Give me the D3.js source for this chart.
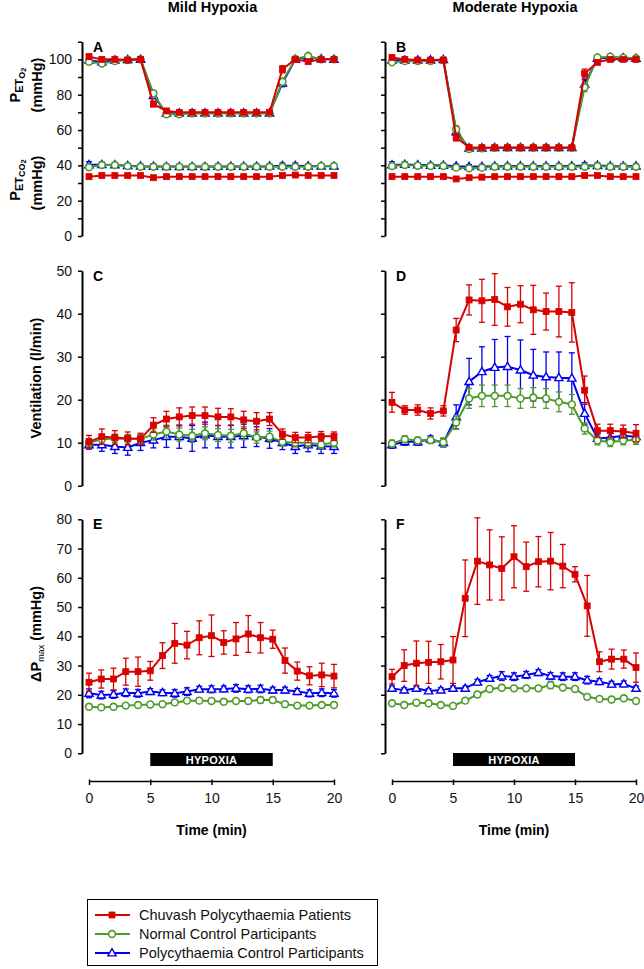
<!DOCTYPE html>
<html><head><meta charset="utf-8">
<script src="https://cdn.jsdelivr.net/npm/d3@7"></script>
<style>body{margin:0;background:#fff} svg{display:block} text{font-family:"Liberation Sans",Arial,sans-serif}</style>
</head><body><svg id="c" width="644" height="969"></svg>
<script>
// ---------- DATA ----------
const timeABCD = [0, 1.05, 2.11, 3.16, 4.21, 5.26, 6.32, 7.37, 8.42, 9.47, 10.53, 11.58, 12.63, 13.68, 14.74, 15.79, 16.84, 17.89, 18.95, 20];
const timeEF = [0,1,2,3,4,5,6,7,8,9,10,11,12,13,14,15,16,17,18,19,20];
const hypoxiaPeriod = [5, 15];
const seriesNames = ["Chuvash Polycythaemia Patients", "Normal Control Participants", "Polycythaemia Control Participants"];
const columnTitles = ["Mild Hypoxia", "Moderate Hypoxia"];
const panelLetters = ["A","B","C","D","E","F"];
const timeTicks = [0,5,10,15,20];
const gasTicks = [0,10,20,30,40,50,60,70,80,90,100,110];
const gasTickLabels = [0,20,40,60,80,100];
const ventTicks = [0,10,20,30,40,50];
const pmaxTicks = [0,10,20,30,40,50,60,70,80];

// Panel A – mild hypoxia, PETO2 / PETCO2
const mildPetO2Chuvash = [101.5,100,100,99.6,100,74.7,70.8,70,70,70,70,70,70,70,70,94.4,100,98.7,100,100];
const mildPetO2ChuvashErr = [1.5,0.5,0.5,0.5,0.5,1.5,0.8,0.5,0.5,0.5,0.5,0.5,0.5,0.5,0.5,2.0,0.8,0.6,0.5,0.5];
const mildPetO2Normal = [98.7,97.7,99,99.6,100,80.8,68.9,68.9,69.4,69.4,69.4,69.4,69.4,69.4,69.4,87.3,100.3,101.9,100,100];
const mildPetO2NormalErr = [1,0.8,0.6,0.5,0.5,1.5,0.6,0.5,0.5,0.5,0.5,0.5,0.5,0.5,0.5,2.0,0.8,0.8,0.5,0.5];
const mildPetO2Poly = [99.5,98.5,99.5,99.8,100,79.5,69.5,69.5,69.6,69.6,69.6,69.6,69.6,69.6,69.6,86.5,100,101.5,100.2,100];
const mildPetO2PolyErr = [0.8,0.8,0.6,0.5,0.5,1.5,0.6,0.5,0.5,0.5,0.5,0.5,0.5,0.5,0.5,2.0,0.8,0.8,0.5,0.5];
const mildPetCo2Chuvash = [33.6,34.2,34.2,34.2,34.2,33,33.6,33.6,33.6,33.6,33.6,33.6,33.6,33.6,33.6,34.2,34.5,34.3,34.3,34.3];
const mildPetCo2ChuvashErr = [0.7,0.6,0.6,0.6,0.6,0.7,0.6,0.6,0.6,0.6,0.6,0.6,0.6,0.6,0.6,0.7,0.7,0.6,0.6,0.6];
const mildPetCo2Normal = [38.9,40.2,40.2,39.6,39.2,39.2,39.2,39.2,39.2,39.2,39.2,39.2,39.2,39.2,39.2,39.2,39.2,39.2,39.6,39.6];
const mildPetCo2NormalErr = [1,0.8,0.8,0.8,0.8,1.2,0.8,0.8,0.8,0.8,0.8,0.8,0.8,0.8,0.8,0.8,0.8,0.8,0.8,0.8];
const mildPetCo2Poly = [40.3,40.4,40.2,39.8,39.5,39.4,39.3,39.3,39.3,39.3,39.4,39.4,39.4,39.4,39.5,39.8,39.8,39.6,39.5,39.5];
const mildPetCo2PolyErr = [1.8,1.5,1.2,1.2,1.2,1.5,1.2,1.2,1.2,1.2,1.2,1.2,1.2,1.2,1.2,1.5,1.5,1.2,1.2,1.2];

// Panel B – moderate hypoxia, PETO2 / PETCO2
const modPetO2Chuvash = [101.1,100,99.6,99.6,99.6,55.8,50.2,50,50,50,50,50,50,50,50,92,98.3,100,100,100];
const modPetO2ChuvashErr = [0.8,0.5,0.5,0.5,0.5,2.0,0.6,0.5,0.5,0.5,0.5,0.5,0.5,0.5,0.5,2.5,0.8,0.5,0.5,0.5];
const modPetO2Normal = [98.3,99,99,99,99.6,60.4,49.2,49.6,50,50,50,50,50,50,50,84.2,101.1,101.5,101,100.6];
const modPetO2NormalErr = [0.8,0.5,0.5,0.5,0.5,2.0,0.6,0.5,0.5,0.5,0.5,0.5,0.5,0.5,0.5,2.5,0.8,0.5,0.5,0.5];
const modPetO2Poly = [99.5,99.5,99.5,99.6,99.8,59,49.8,49.8,50,50,50,50,50,50,50,86,100.5,101,100.8,100.5];
const modPetO2PolyErr = [0.8,0.5,0.5,0.5,0.5,2.0,0.6,0.5,0.5,0.5,0.5,0.5,0.5,0.5,0.5,2.5,0.8,0.5,0.5,0.5];
const modPetCo2Chuvash = [33.6,33.6,33.6,33.6,33.6,32.3,33,33.3,33.6,33.6,33.6,33.6,33.6,33.6,33.6,34.2,34.2,33.6,33.6,33.6];
const modPetCo2ChuvashErr = [0.8,0.7,0.6,0.6,0.6,0.6,0.6,0.6,0.6,0.6,0.6,0.6,0.6,0.6,0.6,0.8,1.0,0.9,0.9,0.9];
const modPetCo2Normal = [39.6,40.2,39.8,39.6,39.6,38.7,38.3,38.7,39.2,39.2,39.2,39.2,39.2,39.2,39.2,39.2,39.6,39.2,39.2,39.2];
const modPetCo2NormalErr = [1.2,0.8,0.8,0.8,0.8,0.8,0.8,0.8,0.8,0.8,0.8,0.8,0.8,0.8,0.8,0.8,0.8,0.8,0.8,0.8];
const modPetCo2Poly = [40.2,40.5,40.2,40,40,39.5,39.2,39.3,39.5,39.6,39.6,39.6,39.6,39.6,39.6,39.9,39.9,39.6,39.5,39.6];
const modPetCo2PolyErr = [1.8,1.5,1.2,1.2,1.2,1.2,1.2,1.2,1.2,1.2,1.2,1.2,1.2,1.2,1.2,1.5,1.5,1.2,1.5,1.2];

// Panel C – mild hypoxia ventilation (l/min)
const mildVentChuvash = [10.2,11.4,11.2,11,10.9,14.1,15.5,16,16.3,16.3,16,16,15.3,15,15.5,12,11.2,11.2,11.5,11.5];
const mildVentChuvashErr = [1.5,1.8,1.6,1.5,1.3,1.7,1.8,2.1,2,2,2,1.9,2,2,1.5,1.2,1.2,1.2,1.1,1];
const mildVentNormal = [10,10.8,11,10.9,10.9,11.9,12.6,11.9,11.6,12.2,11.8,11.6,12.2,11.2,11.4,10.2,10,10,9.6,10];
const mildVentNormalErr = [1,1,1,1,1,1.3,1.5,1.5,1.5,1.5,1.5,1.5,1.5,1.3,1.3,1,1,1,1,1];
const mildVentPoly = [9.5,9.5,9.1,8.9,10,10.6,11.4,11.4,11,11.8,11.4,11.4,11.6,11.4,11,10,9.1,9.5,9.2,9.1];
const mildVentPolyErr = [1,1.5,1.6,1.8,1.8,1.8,2.5,2.7,3,3,2.6,2.6,2.7,2.3,2.3,1.6,1.6,1.6,1.7,1.6];

// Panel D – moderate hypoxia ventilation (l/min)
const modVentChuvash = [19.4,17.6,17.6,16.8,17.4,36.2,43.2,43,43.3,41.6,42.2,40.9,40.5,40.5,40.3,22.2,12.8,12.8,12.6,12.2];
const modVentChuvashErr = [2.3,1,1.2,1.3,1.2,2.7,3.5,5,6,4.5,4.3,5.7,4.3,5.9,6.9,3.3,1.5,1.5,1.5,2];
const modVentNormal = [9.8,10.8,10.5,10.6,10.1,14.7,20.3,20.9,20.9,20.9,20.3,20.5,20.3,19.5,18.9,13.3,10.5,10.1,10.5,10.6];
const modVentNormalErr = [0.8,0.8,0.8,0.8,1,1.5,2.3,2.5,2.5,2.5,2.3,2.3,2.3,2.3,2.3,1.3,1,1,1,1];
const modVentPoly = [9.5,10.2,10.2,10.8,10,16,24.2,26.5,27.5,27.7,26.9,25.7,25.3,25.1,25,16.8,11,11.2,11.6,11.4];
const modVentPolyErr = [0.8,0.8,0.8,0.8,1,2.8,5.4,5.8,6.5,7,7,6,5.8,6,5.9,2.5,1,1,1,1];

// Panel E – mild hypoxia ΔPmax (mmHg)
const mildPmaxChuvash = [24.3,25.4,25.4,27.9,27.9,28.2,33.4,37.6,37,39.5,40.2,37.9,39.1,40.8,39.5,39,31.7,28.1,26.5,26.8,26.4];
const mildPmaxChuvashErr = [3.1,3.1,3.7,4.6,5,3.2,4.4,6.8,4.7,5.8,7.1,4,5.6,6.3,5.2,3.1,4.3,3.1,3.1,4,4];
const mildPmaxNormal = [15.9,15.7,15.9,16.3,16.5,16.7,16.8,17.4,18,18,17.9,17.6,17.9,17.9,18.2,18.2,16.8,16.3,16.3,16.5,16.5];
const mildPmaxNormalErr = [0.8,0.8,0.7,0.7,0.7,0.7,0.7,0.9,0.9,0.9,0.8,0.8,0.8,0.9,1,0.9,0.9,0.8,0.8,0.8,0.8];
const mildPmaxPoly = [20.5,19.9,20.1,20.7,20.5,21.1,20.7,20.5,21.1,21.9,21.9,22,22.2,21.9,22,21.6,21.6,21.1,20.5,20.7,20.5];
const mildPmaxPolyErr = [1.5,1.3,1.3,1.3,1.3,1,1,1.3,1.3,1,1.2,1,1.3,1.2,1.3,1,1,1,1.2,1.3,1.3];

// Panel F – moderate hypoxia ΔPmax (mmHg)
const modPmaxChuvash = [26.2,30,30.8,31.1,31.3,31.9,53,65.7,64.4,63.2,67.2,63.8,65.5,65.7,64,61.2,50.4,31.3,32.2,32.2,29.3];
const modPmaxChuvashErr = [2.5,5.4,7.6,7.2,5.9,8,13.1,14.8,12,10.8,10.6,8.4,8.6,9.8,7.4,2.6,10.4,3.4,3.4,3.1,5];
const modPmaxNormal = [17.1,16.5,17.3,17.1,16.5,16.2,18,20.1,22,22.4,22.2,22.2,22.2,23.3,22.5,22,19.3,18.6,18.4,18.8,17.9];
const modPmaxNormalErr = [0.8,0.8,0.7,0.7,0.7,0.8,0.8,0.8,0.8,0.8,0.8,0.8,0.8,1.2,0.9,0.8,0.8,0.8,0.8,0.8,0.8];
const modPmaxPoly = [22.2,21.6,22.2,21.3,21.6,22.2,22.2,24.3,25.6,26.4,26.2,26.8,27.6,26.4,26.2,26.2,25,24.5,23.6,23.7,22.2];
const modPmaxPolyErr = [0.8,0.8,0.8,0.8,0.8,0.8,0.8,1,1,1.5,1.3,1.2,1,1.2,1.3,1.3,1.3,1,1,1,0.8];

// ---------- DRAWING ----------
const svg = d3.select("#c");
const COLORS = ["#d90000", "#4e9a2a", "#0000f0"];
const MARKERS = ["square", "circle", "triangle"];

const xLeft = d3.scaleLinear().domain([0, 20]).range([89, 334]);
const xRight = d3.scaleLinear().domain([0, 20]).range([392, 636]);
const yGas = d3.scaleLinear().domain([0, 110]).range([236, 41.7]);
const yVent = d3.scaleLinear().domain([0, 50]).range([485.7, 270.7]);
const yPmax = d3.scaleLinear().domain([0, 80]).range([753.3, 519.3]);

function drawYAxis(xs, ys, ticks, labels, showLabels) {
  const g = svg.append("g").attr("transform", `translate(${xs(0) - 7},0)`);
  g.call(d3.axisLeft(ys).tickValues(ticks).tickSize(4).tickSizeOuter(0).tickPadding(6)
    .tickFormat(d => (showLabels && labels.includes(d)) ? d : ""));
  g.select(".domain").attr("stroke", "#000").attr("stroke-width", 2);
  g.selectAll(".tick line").attr("stroke", "#000").attr("stroke-width", 1.5);
  g.selectAll(".tick text").attr("font-size", 14).attr("fill", "#111")
    .style("font-family", '"Liberation Sans", Arial, sans-serif');
}

function drawSeries(xs, ys, times, vals, errs, idx) {
  const color = COLORS[idx];
  const g = svg.append("g");
  const pts = times.map((t, i) => ({ t, v: vals[i], e: errs[i] }));
  const eb = g.append("g").attr("stroke", color).attr("stroke-width", 1.3);
  pts.forEach(p => {
    const x = xs(p.t), y1 = ys(p.v - p.e), y2 = ys(p.v + p.e);
    eb.append("line").attr("x1", x).attr("x2", x).attr("y1", y1).attr("y2", y2);
    eb.append("line").attr("x1", x - 3).attr("x2", x + 3).attr("y1", y1).attr("y2", y1);
    eb.append("line").attr("x1", x - 3).attr("x2", x + 3).attr("y1", y2).attr("y2", y2);
  });
  g.append("path").datum(pts)
    .attr("fill", "none").attr("stroke", color).attr("stroke-width", 2)
    .attr("d", d3.line().x(p => xs(p.t)).y(p => ys(p.v)));
  drawMarkers(g, pts.map(p => [xs(p.t), ys(p.v)]), idx);
}

function drawMarkers(g, coords, idx) {
  const color = COLORS[idx], type = MARKERS[idx];
  coords.forEach(([x, y]) => {
    if (type === "square") {
      g.append("rect").attr("x", x - 3).attr("y", y - 3).attr("width", 6).attr("height", 6)
        .attr("fill", color).attr("stroke", color).attr("stroke-width", 0.8);
    } else if (type === "circle") {
      g.append("circle").attr("cx", x).attr("cy", y).attr("r", 3.4)
        .attr("fill", "#fff").attr("stroke", color).attr("stroke-width", 1.6);
    } else {
      g.append("path").attr("d", d3.symbol().type(d3.symbolTriangle).size(30)())
        .attr("transform", `translate(${x},${y + 0.5})`)
        .attr("fill", "#fff").attr("stroke", color).attr("stroke-width", 1.4);
    }
  });
}

function panelLetter(xs, ys, top, letter) {
  svg.append("text").attr("x", xs(0) + 4).attr("y", ys(top) + 10)
    .attr("font-size", 14).attr("font-weight", "bold").text(letter);
}

// Axes
drawYAxis(xLeft, yGas, gasTicks, gasTickLabels, true);
drawYAxis(xRight, yGas, gasTicks, gasTickLabels, false);
drawYAxis(xLeft, yVent, ventTicks, ventTicks, true);
drawYAxis(xRight, yVent, ventTicks, ventTicks, false);
drawYAxis(xLeft, yPmax, pmaxTicks, pmaxTicks, true);
drawYAxis(xRight, yPmax, pmaxTicks, pmaxTicks, false);

// Series (blue, green, red drawing order)
const panelData = [
  [xLeft, yGas, timeABCD, [mildPetO2Chuvash, mildPetO2Normal, mildPetO2Poly], [mildPetO2ChuvashErr, mildPetO2NormalErr, mildPetO2PolyErr]],
  [xLeft, yGas, timeABCD, [mildPetCo2Chuvash, mildPetCo2Normal, mildPetCo2Poly], [mildPetCo2ChuvashErr, mildPetCo2NormalErr, mildPetCo2PolyErr]],
  [xRight, yGas, timeABCD, [modPetO2Chuvash, modPetO2Normal, modPetO2Poly], [modPetO2ChuvashErr, modPetO2NormalErr, modPetO2PolyErr]],
  [xRight, yGas, timeABCD, [modPetCo2Chuvash, modPetCo2Normal, modPetCo2Poly], [modPetCo2ChuvashErr, modPetCo2NormalErr, modPetCo2PolyErr]],
  [xLeft, yVent, timeABCD, [mildVentChuvash, mildVentNormal, mildVentPoly], [mildVentChuvashErr, mildVentNormalErr, mildVentPolyErr]],
  [xRight, yVent, timeABCD, [modVentChuvash, modVentNormal, modVentPoly], [modVentChuvashErr, modVentNormalErr, modVentPolyErr]],
  [xLeft, yPmax, timeEF, [mildPmaxChuvash, mildPmaxNormal, mildPmaxPoly], [mildPmaxChuvashErr, mildPmaxNormalErr, mildPmaxPolyErr]],
  [xRight, yPmax, timeEF, [modPmaxChuvash, modPmaxNormal, modPmaxPoly], [modPmaxChuvashErr, modPmaxNormalErr, modPmaxPolyErr]]
];
panelData.forEach(([xs, ys, t, vals, errs]) => {
  [2, 1, 0].forEach(i => drawSeries(xs, ys, t, vals[i], errs[i], i));
});

// Panel letters
panelLetter(xLeft, yGas, 110, panelLetters[0]);
panelLetter(xRight, yGas, 110, panelLetters[1]);
panelLetter(xLeft, yVent, 50, panelLetters[2]);
panelLetter(xRight, yVent, 50, panelLetters[3]);
panelLetter(xLeft, yPmax, 80, panelLetters[4]);
panelLetter(xRight, yPmax, 80, panelLetters[5]);

// Column titles
[[xLeft, columnTitles[0]], [xRight, columnTitles[1]]].forEach(([xs, t]) => {
  svg.append("text").attr("x", xs(10) + 1).attr("y", 12).attr("text-anchor", "middle")
    .attr("font-size", 14.5).attr("font-weight", "bold").text(t);
});

// Bottom time axes + hypoxia bars
[xLeft, xRight].forEach(xs => {
  svg.append("rect").attr("x", xs(hypoxiaPeriod[0])).attr("y", 753)
    .attr("width", xs(hypoxiaPeriod[1]) - xs(hypoxiaPeriod[0])).attr("height", 13).attr("fill", "#000");
  svg.append("text").attr("x", (xs(hypoxiaPeriod[0]) + xs(hypoxiaPeriod[1])) / 2).attr("y", 763.5)
    .attr("text-anchor", "middle").attr("fill", "#fff").attr("font-size", 11).attr("font-weight", "bold")
    .attr("letter-spacing", 0.3).text("HYPOXIA");
  const g = svg.append("g").attr("transform", "translate(0,781)");
  g.call(d3.axisBottom(xs).tickValues(timeTicks).tickSize(4).tickSizeOuter(0).tickPadding(8));
  g.select(".domain").attr("stroke", "#000").attr("stroke-width", 1.6);
  g.selectAll(".tick line").attr("stroke", "#000").attr("stroke-width", 1.5).attr("y1", -1.5);
  g.selectAll(".tick text").attr("font-size", 14).attr("fill", "#111")
    .style("font-family", '"Liberation Sans", Arial, sans-serif');
  svg.append("text").attr("x", xs(10)).attr("y", 835).attr("text-anchor", "middle")
    .attr("font-size", 14).attr("font-weight", "bold").text("Time (min)");
});

// Y-axis titles
function rotLabel(x, y, build) {
  const t = svg.append("text").attr("transform", `translate(${x},${y}) rotate(-90)`)
    .attr("text-anchor", "middle").attr("font-weight", "bold").attr("font-size", 14.5);
  build(t);
}
rotLabel(20, 85, t => {
  t.append("tspan").text("P");
  t.append("tspan").attr("font-size", 11).attr("dy", 3).text("ET");
  t.append("tspan").attr("font-size", 9).attr("dy", 2).text("O");
  t.append("tspan").attr("font-size", 7.5).attr("dy", 1).text("2");
});
rotLabel(42, 85, t => t.text("(mmHg)"));
rotLabel(20, 180, t => {
  t.append("tspan").text("P");
  t.append("tspan").attr("font-size", 11).attr("dy", 3).text("ET");
  t.append("tspan").attr("font-size", 9).attr("dy", 2).text("CO");
  t.append("tspan").attr("font-size", 7.5).attr("dy", 1).text("2");
});
rotLabel(42, 183, t => t.text("(mmHg)"));
rotLabel(41, 378, t => t.text("Ventilation (l/min)"));
rotLabel(41, 634, t => {
  t.append("tspan").text("ΔP");
  t.append("tspan").attr("font-size", 9).attr("font-weight", "normal").attr("dy", 3).text("max");
  t.append("tspan").attr("dy", -3).text(" (mmHg)");
});

// Legend
const lg = svg.append("g");
lg.append("rect").attr("x", 87.5).attr("y", 899.5).attr("width", 290).attr("height", 66)
  .attr("fill", "#fff").attr("stroke", "#000").attr("stroke-width", 1);
const legendY = [915, 934, 953];
seriesNames.forEach((name, i) => {
  lg.append("line").attr("x1", 95).attr("x2", 130).attr("y1", legendY[i]).attr("y2", legendY[i])
    .attr("stroke", COLORS[i]).attr("stroke-width", 2);
  drawMarkers(lg, [[112, legendY[i]]], i);
  lg.append("text").attr("x", 139).attr("y", legendY[i] + 5).attr("font-size", 14.5).attr("fill", "#111").text(name);
});
</script></body></html>
